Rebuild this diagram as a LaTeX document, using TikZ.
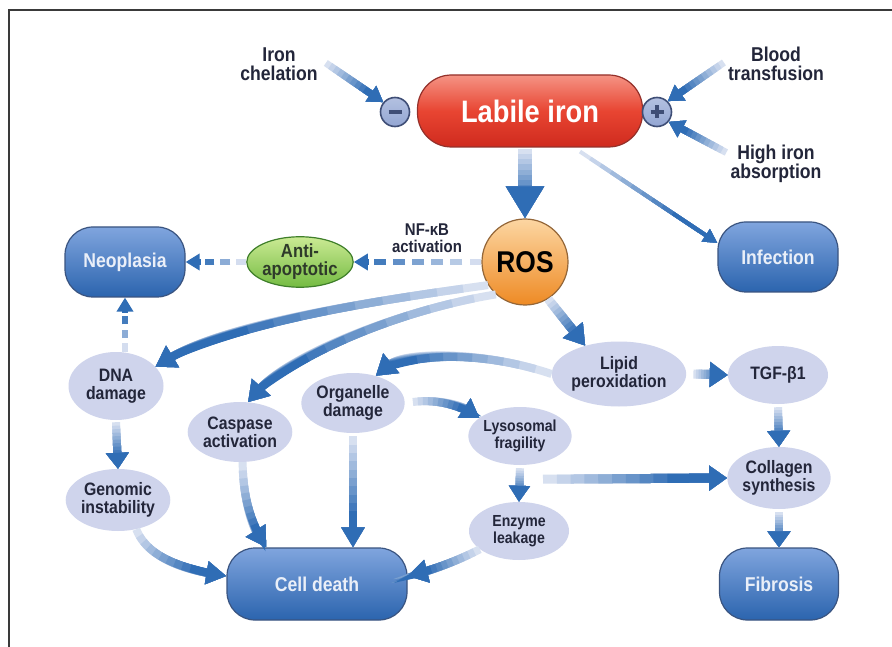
\documentclass[tikz,border=0pt]{standalone}
\usepackage{fontspec}
\setmainfont{Liberation Sans}[FakeStretch=0.88]
\usetikzlibrary{calc,arrows.meta,shapes.geometric}
\definecolor{arrowc}{HTML}{2F6DB5}
\definecolor{tailc}{HTML}{E2E7F4}
\definecolor{ellc}{HTML}{CFD4EC}
\definecolor{captop}{HTML}{80A5DE}
\definecolor{capbot}{HTML}{2B64AE}
\definecolor{capdraw}{HTML}{3A5480}
\definecolor{captext}{HTML}{EAEFF8}
\definecolor{redtop}{HTML}{F59384}
\definecolor{redmid}{HTML}{E84532}
\definecolor{redbot}{HTML}{CF2A1E}
\definecolor{reddraw}{HTML}{94302A}
\definecolor{ostop}{HTML}{FCD6A2}
\definecolor{osbot}{HTML}{EE8A24}
\definecolor{osdraw}{HTML}{946638}
\definecolor{gtop}{HTML}{CBEA94}
\definecolor{gbot}{HTML}{74BB42}
\definecolor{gdraw}{HTML}{3F7F2A}
\definecolor{gtext}{HTML}{2E3A2A}
\definecolor{signc}{HTML}{93A6D3}
\definecolor{signd}{HTML}{3F4E76}
\definecolor{txtc}{HTML}{23263A}
\definecolor{framec}{HTML}{3A3A3A}
\tikzset{
  capsule/.style={draw=capdraw, line width=1.2pt, rounded corners=28pt,
    top color=captop, bottom color=capbot, text=captext, inner sep=0pt,
    font=\bfseries\fontsize{20}{20}\selectfont},
  bubble/.style={ellipse, fill=ellc, inner sep=0pt, text=txtc, align=center,
    font=\bfseries\fontsize{18}{18}\selectfont},
  lbltext/.style={align=center, text=txtc, inner sep=0pt,
    font=\bfseries\fontsize{20}{19}\selectfont},
  signnode/.style={circle, draw=signd, line width=1.6pt, top color=signc!70!white,
    bottom color=signc, minimum size=29pt, inner sep=0pt},
}
% gradient Bezier arrow: width, head, P0, P1, P2, P3
\newcommand\garrow[6]{%
  \path (#3) coordinate (q0) (#4) coordinate (q1) (#5) coordinate (q2) (#6) coordinate (q3);
  \foreach \k in {0,...,9}{%
    \pgfmathsetmacro\tp{\k*0.075}%
    \pgfmathtruncatemacro\pc{6+\k*94/9}%
    \coordinate (qa) at ($(q0)!\tp!(q1)$);
    \coordinate (qb) at ($(q1)!\tp!(q2)$);
    \coordinate (qc) at ($(q2)!\tp!(q3)$);
    \coordinate (qd) at ($(qa)!\tp!(qb)$);
    \coordinate (qe) at ($(qb)!\tp!(qc)$);
    \coordinate (qf) at ($(qd)!\tp!(qe)$);
    \draw[line width=#1, draw=arrowc!\pc!tailc, -{Triangle[#2]}] (qf) .. controls (qe) and (qc) .. (q3);
  }}
% straight gradient arrow: width, head, start, end
\newcommand\sarrow[4]{%
  \path (#3) coordinate (sa) (#4) coordinate (sb);
  \garrow{#1}{#2}{sa}{$(sa)!0.3333!(sb)$}{$(sa)!0.6667!(sb)$}{sb}}
% dashed gradient arrow: start, end, number of dashes
\newcommand\darrow[3]{%
  \path (#1) coordinate (da) (#2) coordinate (db);
  \coordinate (dh) at ($(db)!13pt!(da)$);
  \foreach \i in {1,...,#3}{%
    \pgfmathsetmacro\fa{(\i-1)/#3}%
    \pgfmathsetmacro\fb{(\i-1+0.62)/#3}%
    \pgfmathtruncatemacro\pc{8+80*(\i-1)/max(#3-1,1)}%
    \draw[line width=5.5pt, draw=arrowc!\pc!tailc] ($(da)!\fa!(dh)$) -- ($(da)!\fb!(dh)$);
  }
  \draw[line width=5.5pt, arrowc, -{Triangle[length=14pt,width=16pt]}] ($(db)!15pt!(da)$) -- (db);
}
\begin{document}
\begin{tikzpicture}[x=1pt,y=-1pt]
\useasboundingbox (0,0) rectangle (892,647);
\fill[white] (0,0) rectangle (892,647);
\draw[line width=2pt, framec] (9,647) -- (9,10) -- (892,10);

% main nodes
\node[capsule, minimum width=225pt, minimum height=72pt, rounded corners=34pt,
  top color=redtop, bottom color=redbot, middle color=redmid, draw=reddraw, text=white,
  font=\bfseries\fontsize{31}{31}\selectfont] (labile) at (530,111) {Labile iron};
\node[signnode] (minus) at (395,112) {};
\draw[line width=4pt, signd] ($(minus.center)+(-6.5,0)$) -- ($(minus.center)+(6.5,0)$);
\node[signnode] (plus) at (657,112) {};
\draw[line width=4pt, signd] ($(plus.center)+(-6.5,0)$) -- ($(plus.center)+(6.5,0)$);
\draw[line width=4pt, signd] ($(plus.center)+(0,-6.5)$) -- ($(plus.center)+(0,6.5)$);

\node[circle, minimum size=86pt, draw=osdraw, line width=1.2pt, top color=ostop,
  bottom color=osbot, inner sep=0pt, text=black,
  font=\bfseries\fontsize{30}{30}\selectfont] (ros) at (525,262) {ROS};

\node[capsule, minimum width=120pt, minimum height=70pt] (infection) at (778,257) {Infection};
\node[capsule, minimum width=120pt, minimum height=70pt] (neo) at (125,262) {Neoplasia};
\node[capsule, minimum width=180pt, minimum height=72pt] (cell) at (317,584) {Cell death};
\node[capsule, minimum width=119pt, minimum height=72pt] (fib) at (779,584) {Fibrosis};

\node[ellipse, minimum width=95pt, minimum height=50pt, draw=gdraw, line width=1.2pt,
  top color=gtop, bottom color=gbot, inner sep=0pt, align=center, text=gtext,
  font=\bfseries\fontsize{19}{18}\selectfont] (anti) at (300,262) {Anti-\\apoptotic};

\node[bubble, minimum width=95pt, minimum height=68pt] (dna) at (116,386) {DNA\\damage};
\node[bubble, minimum width=100pt, minimum height=60pt] (caspase) at (240,432) {Caspase\\activation};
\node[bubble, minimum width=100pt, minimum height=60pt] (organelle) at (353,403) {Organelle\\damage};
\node[bubble, minimum width=112pt, minimum height=65pt] (lipid) at (619,374) {Lipid\\peroxidation};
\node[bubble, minimum width=100pt, minimum height=58pt] (tgf) at (778,375) {TGF-β1};
\node[bubble, minimum width=97pt, minimum height=58pt,
  font=\bfseries\fontsize{16}{17}\selectfont] (lyso) at (520,436) {Lysosomal\\fragility};
\node[bubble, minimum width=100pt, minimum height=58pt,
  font=\bfseries\fontsize{16}{17}\selectfont] (enzyme) at (519,531) {Enzyme\\leakage};
\node[bubble, minimum width=95pt, minimum height=62pt] (genomic) at (118,500) {Genomic\\instability};
\node[bubble, minimum width=98pt, minimum height=62pt] (collagen) at (779,478) {Collagen\\synthesis};

% labels
\node[lbltext] (chel) at (279,64) {Iron\\chelation};
\node[lbltext] (blood) at (776,63.5) {Blood\\transfusion};
\node[lbltext] (high) at (776,163.5) {High iron\\absorption};
\node[lbltext, font=\bfseries\fontsize{17}{17}\selectfont] (nfkb) at (427,238) {NF-κB\\activation};

% connectors
\sarrow{7pt}{length=15pt,width=18pt}{$(chel.east)+(8,-1)$}{minus.140}
\sarrow{7pt}{length=15pt,width=18pt}{$(blood.west)+(-4,-1)$}{plus.45}
\sarrow{7pt}{length=15pt,width=18pt}{$(high.west)+(-4,-11)$}{plus.-40}
\coordinate (lr) at (labile.south -| ros.north);
\sarrow{14pt}{length=32pt,width=36pt}{$(lr)+(0,1)$}{ros.north}
\sarrow{4pt}{length=14pt,width=14pt}{$(labile.south)+(50,4)$}{infection.167}

\darrow{ros.west}{anti.east}{6}
\darrow{anti.west}{neo.east}{3}
\coordinate (dn) at (dna.north -| neo.south);
\darrow{dn}{neo.south}{3}

\garrow{8pt}{length=20pt,width=24pt}{ros.212}{380,300}{230,322}{dna.26}
\garrow{8pt}{length=20pt,width=24pt}{ros.228}{400,310}{290,355}{caspase.75}
\sarrow{9pt}{length=20pt,width=24pt}{ros.-58}{lipid.140}
\garrow{8pt}{length=20pt,width=24pt}{lipid.west}{480,350}{405,352}{organelle.50}
\sarrow{9pt}{length=18pt,width=24pt}{$(lipid.east)+(7,0)$}{tgf.west}
\sarrow{8pt}{length=16pt,width=22pt}{$(tgf.south)+(0,3)$}{collagen.north}
\sarrow{8pt}{length=16pt,width=22pt}{$(collagen.south)+(0,3)$}{fib.north}
\sarrow{8pt}{length=16pt,width=22pt}{$(dna.south)+(0,2)$}{genomic.north}
\sarrow{8pt}{length=16pt,width=20pt}{$(lyso.south)+(0,3)$}{enzyme.north}
\sarrow{9pt}{length=18pt,width=24pt}{$(lyso.south)+(23,14)$}{collagen.west}
\coordinate (oc) at (organelle.south |- cell.north);
\sarrow{8pt}{length=20pt,width=22pt}{$(organelle.south)+(0,3)$}{oc}
\coordinate (cc) at ($(cell.north west)+(40,0)$);
\garrow{8pt}{length=20pt,width=22pt}{caspase.-85}{243,500}{252,525}{cc}
\garrow{8pt}{length=20pt,width=22pt}{genomic.-58}{148,560}{190,570}{cell.175}
\garrow{8pt}{length=20pt,width=22pt}{enzyme.205}{455,562}{432,570}{cell.5}
\garrow{8pt}{length=18pt,width=22pt}{$(organelle.east)+(8,-1)$}{435,399}{458,404}{lyso.156}
\end{tikzpicture}
\end{document}
